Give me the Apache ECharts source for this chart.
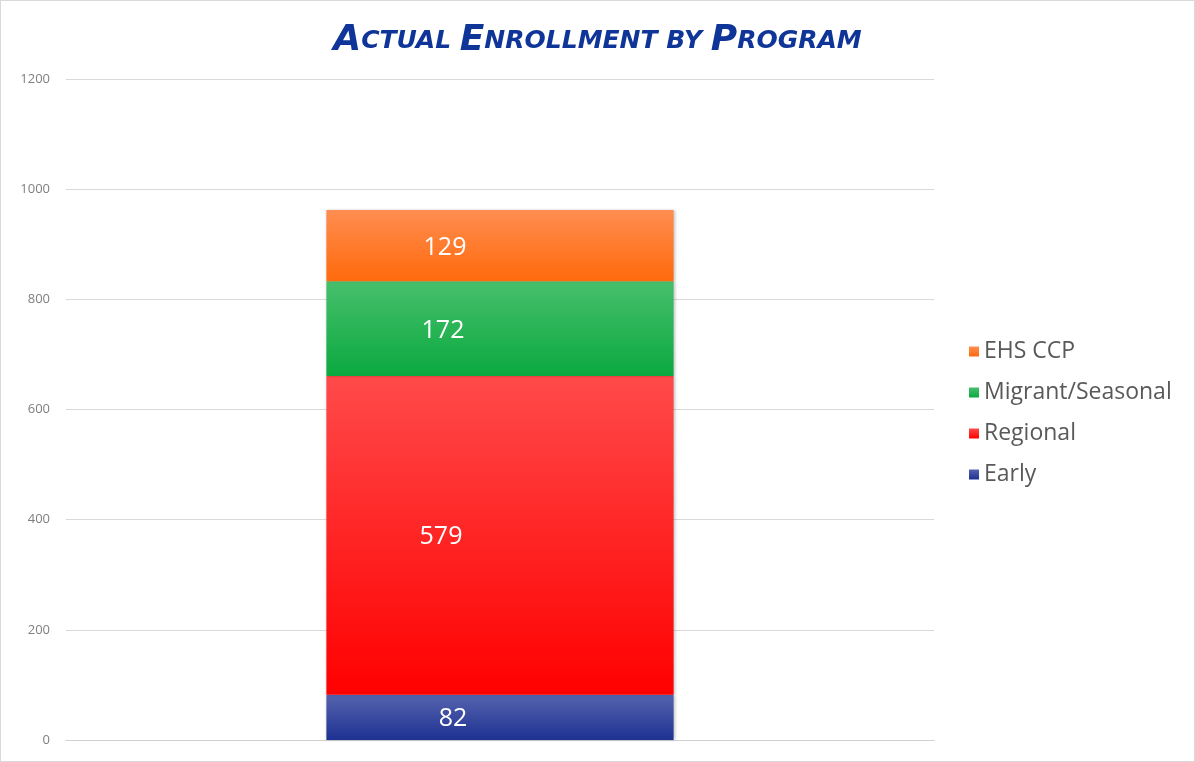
<!DOCTYPE html>
<html>
<head>
<meta charset="utf-8">
<script src="https://cdn.jsdelivr.net/npm/echarts@6/dist/echarts.min.js"></script>
<style>
  html, body { margin: 0; padding: 0; background: #fff; }
  #chart { width: 1195px; height: 762px; box-sizing: border-box; border: 1px solid #d9d9d9; }
</style>
</head>
<body>
<div id="chart"></div>
<script>
const categories = ['Enrollment'];
const seriesNames = ['Early', 'Regional', 'Migrant/Seasonal', 'EHS CCP'];
const earlyValues = [82];
const regionalValues = [579];
const migrantValues = [172];
const ehsValues = [129];
const yTicks = { min: 0, max: 1200, interval: 200 };

const chart = echarts.init(document.getElementById('chart'));

// top / bottom gradient colours per series
const colors = [
  ['#5563ad', '#1e3192'],
  ['#ff4a4a', '#ff0000'],
  ['#47bf6c', '#0ba940'],
  ['#ff8d50', '#ff6a0c']
];
const labelOffsets = [[-47, 1], [-59, 2], [-57, 2], [-55, 2]];
const valuesList = [earlyValues, regionalValues, migrantValues, ehsValues];

const seriesArr = seriesNames.map((name, i) => ({
  name: name,
  type: 'bar',
  stack: 'total',
  barWidth: '40%',
  data: valuesList[i],
  itemStyle: {
    color: new echarts.graphic.LinearGradient(0, 0, 0, 1, [
      { offset: 0, color: colors[i][0] },
      { offset: 1, color: colors[i][1] }
    ]),
    shadowColor: 'rgba(0,0,0,0.25)',
    shadowBlur: 3,
    shadowOffsetX: 1
  },
  label: {
    show: true,
    position: 'inside',
    offset: labelOffsets[i],
    color: '#fff',
    fontSize: 25,
    fontFamily: 'Open Sans'
  },
  emphasis: { disabled: true }
}));

const option = {
  animation: false,
  title: {
    text: '{b|A}{s|CTUAL }{b|E}{s|NROLLMENT BY }{b|P}{s|ROGRAM}',
    left: 'center',
    top: 17,
    textStyle: {
      rich: {
        b: { fontSize: 36, fontStyle: 'italic', fontWeight: 'bold', color: '#0f3598', fontFamily: 'DejaVu Sans' },
        s: { fontSize: 25, fontStyle: 'italic', fontWeight: 'bold', color: '#0f3598', fontFamily: 'DejaVu Sans' }
      }
    }
  },
  legend: {
    data: ['EHS CCP', 'Migrant/Seasonal', 'Regional', 'Early'],
    orient: 'vertical',
    left: 963,
    top: 334,
    itemWidth: 10,
    itemHeight: 10,
    itemGap: 18,
    icon: 'rect',
    textStyle: { fontSize: 23, color: '#595959', fontFamily: 'Open Sans' }
  },
  grid: { left: 65, right: 260, top: 78, bottom: 21, containLabel: false },
  xAxis: {
    type: 'category',
    data: categories,
    axisLine: { lineStyle: { color: '#d0d0d0' } },
    axisTick: { show: false },
    axisLabel: { show: false }
  },
  yAxis: {
    type: 'value',
    min: yTicks.min,
    max: yTicks.max,
    interval: yTicks.interval,
    axisLine: { show: false },
    axisTick: { show: false },
    axisLabel: { color: '#7f7f7f', fontSize: 13, margin: 16, fontFamily: 'Open Sans', formatter: (v) => String(v) },
    splitLine: { lineStyle: { color: '#d9d9d9' } }
  },
  series: seriesArr
};
chart.setOption(option);
</script>
</body>
</html>
